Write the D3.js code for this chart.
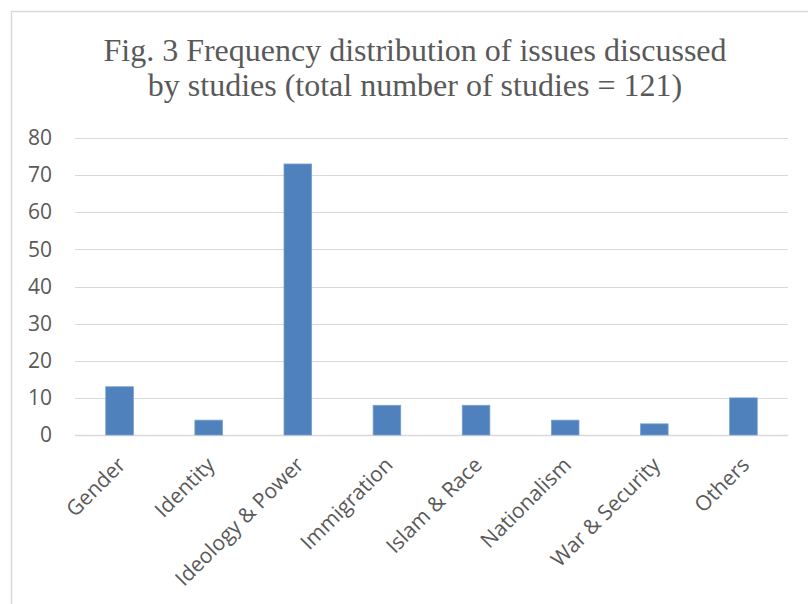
<!DOCTYPE html>
<html>
<head>
<meta charset="utf-8">
<script src="https://cdn.jsdelivr.net/npm/d3@7"></script>
<style>
  body { margin: 0; background: #fff; }
  svg { display: block; }
</style>
</head>
<body>
<svg id="grafico" width="808" height="604"></svg>
<script>
// dados do grafico
const categorias = ["Gender", "Identity", "Ideology & Power", "Immigration",
  "Islam & Race", "Nationalism", "War & Security", "Others"];
const valores = [13, 4, 73, 8, 8, 4, 3, 10];
const yTicks = [0, 10, 20, 30, 40, 50, 60, 70, 80];
const titulo = ["Fig. 3 Frequency distribution of issues discussed",
  "by studies (total number of studies = 121)"];

const width = 808, height = 604;
const margin = {top: 138, right: 20, bottom: 169, left: 75};
const gWidth = width - margin.left - margin.right;
const gHeight = height - margin.top - margin.bottom;

const svg = d3.select("#grafico");

// moldura
svg.append("rect")
  .attr("x", 11.5).attr("y", 11.5)
  .attr("width", 820).attr("height", 620)
  .attr("fill", "none")
  .attr("stroke", "#d9d9d9")
  .attr("stroke-width", 1.5);

// titulo
svg.append("text")
  .attr("x", 415).attr("y", 61)
  .attr("text-anchor", "middle")
  .style("font-family", "'Liberation Serif', 'Times New Roman', serif")
  .style("font-size", "32px")
  .attr("fill", "#595959")
  .selectAll("tspan")
  .data(titulo)
  .enter()
  .append("tspan")
  .attr("x", 415)
  .attr("dy", (d, i) => i === 0 ? 0 : 35)
  .text(d => d);

const g = svg.append("g")
  .attr("transform", "translate(" + margin.left + "," + margin.top + ")");

// escalas
const x = d3.scaleBand()
  .domain(categorias)
  .range([0, gWidth])
  .paddingInner(0.69)
  .paddingOuter(0.345);

const y = d3.scaleLinear()
  .domain([0, 80])
  .range([gHeight, 0]);

// grade
g.append("g")
  .selectAll("line")
  .data(yTicks)
  .enter()
  .append("line")
  .attr("x1", 0).attr("x2", gWidth)
  .attr("y1", d => Math.round(y(d)) + 0.5)
  .attr("y2", d => Math.round(y(d)) + 0.5)
  .attr("stroke", "#d9d9d9")
  .attr("stroke-width", d => d === 0 ? 1.5 : 1);

// eixo Y
const yAxis = d3.axisLeft(y).tickValues(yTicks).tickSize(0).tickPadding(23);
g.append("g")
  .call(yAxis)
  .call(s => s.select(".domain").remove())
  .selectAll("text")
  .style("font-family", "'Open Sans', sans-serif")
  .style("font-size", "21px")
  .attr("fill", "#595959");

// barras
g.selectAll(".bar")
  .data(valores)
  .enter()
  .append("rect")
  .attr("class", "bar")
  .attr("x", (d, i) => x(categorias[i]))
  .attr("y", d => y(d))
  .attr("width", x.bandwidth())
  .attr("height", d => gHeight - y(d))
  .attr("fill", "#4f81bd")
  .attr("stroke", "#7aa0d0")
  .attr("stroke-width", 0.8);

// eixo X
const xAxis = d3.axisBottom(x).tickSize(0).tickPadding(0);
g.append("g")
  .attr("transform", "translate(0," + gHeight + ")")
  .call(xAxis)
  .call(s => s.select(".domain").remove())
  .selectAll("text")
  .style("font-family", "'Open Sans', sans-serif")
  .style("font-size", "21px")
  .attr("fill", "#595959")
  .attr("text-anchor", "end")
  .attr("dy", "0.35em")
  .attr("transform", "translate(2,26) rotate(-45)");
</script>
</body>
</html>
